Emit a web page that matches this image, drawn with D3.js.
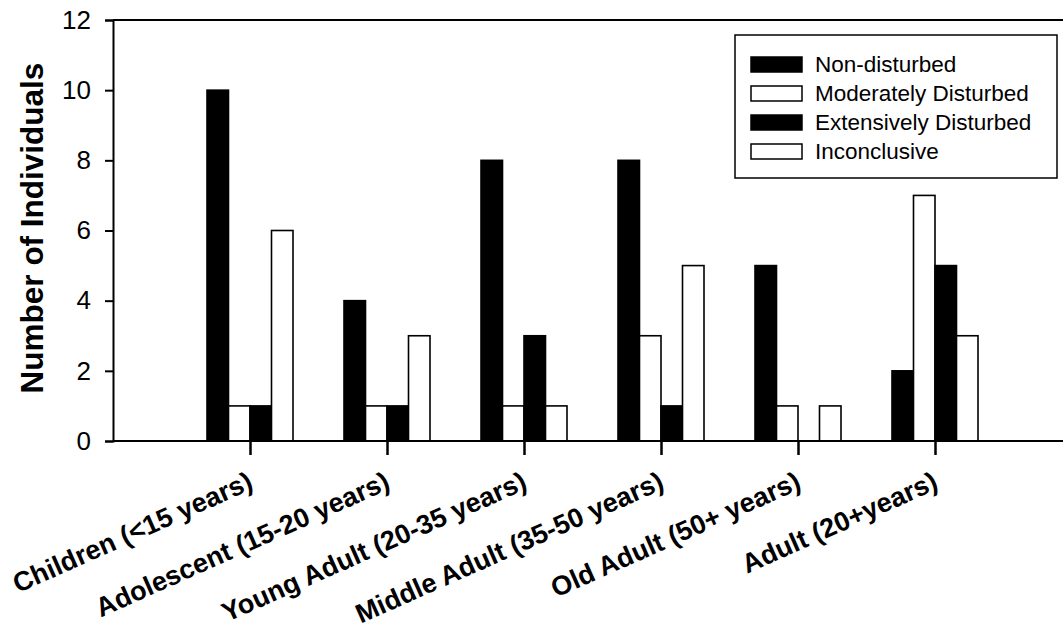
<!DOCTYPE html>
<html>
<head>
<meta charset="utf-8">
<script src="https://cdn.jsdelivr.net/npm/d3@7"></script>
<style>
  html, body { margin: 0; padding: 0; background: #fff; }
  svg { display: block; }
</style>
</head>
<body>
<svg id="chart" width="1063" height="630"></svg>
<script>
const categories = ["Children (<15 years)", "Adolescent (15-20 years)", "Young Adult (20-35 years)",
                    "Middle Adult (35-50 years)", "Old Adult (50+ years)", "Adult (20+years)"];
const seriesNames = ["Non-disturbed", "Moderately Disturbed", "Extensively Disturbed", "Inconclusive"];
const seriesFill = ["#000", "#fff", "#000", "#fff"];
const nonDisturbed = [10, 4, 8, 8, 5, 2];
const moderatelyDisturbed = [1, 1, 1, 3, 1, 7];
const extensivelyDisturbed = [1, 1, 3, 1, 0, 5];
const inconclusive = [6, 3, 1, 5, 1, 3];
const yTicks = [0, 2, 4, 6, 8, 10, 12];

const seriesValues = [nonDisturbed, moderatelyDisturbed, extensivelyDisturbed, inconclusive];

const svg = d3.select("#chart");
const plotLeft = 113, plotTop = 20, plotBottom = 441;

// categories sit at positions 1..6 on a 0..7 axis
const x = d3.scaleLinear().domain([0, 7]).range([plotLeft, plotLeft + 7 * 137]);
const y = d3.scaleLinear().domain([0, 12]).range([plotBottom, plotTop]);
const inner = d3.scaleBand().domain(seriesNames).range([-43, 43]).padding(0);

// bars
seriesNames.forEach((s, si) => {
  svg.append("g").selectAll("rect")
    .data(seriesValues[si].map((v, i) => ({v, i})).filter(d => d.v > 0))
    .join("rect")
    .attr("x", d => x(d.i + 1) + inner(s))
    .attr("y", d => y(d.v))
    .attr("width", inner.bandwidth())
    .attr("height", d => y(0) - y(d.v))
    .attr("fill", seriesFill[si])
    .attr("stroke", "#000")
    .attr("stroke-width", 1.6);
});

// top border line
svg.append("line").attr("x1", plotLeft).attr("x2", 1063).attr("y1", y(12)).attr("y2", y(12))
  .attr("stroke", "#000").attr("stroke-width", 2);

// y axis
const yAxis = svg.append("g").attr("transform", `translate(${plotLeft},0)`)
  .call(d3.axisLeft(y).tickValues(yTicks).tickSize(8).tickPadding(14).tickFormat(d3.format("d")));
yAxis.select(".domain").attr("stroke-width", 2);
yAxis.selectAll(".tick line").attr("stroke-width", 2);
yAxis.selectAll("text").attr("font-family", "Liberation Sans, Arial, sans-serif")
  .attr("font-size", 26).attr("fill", "#000");

// x axis
svg.append("line").attr("x1", plotLeft).attr("x2", 1063).attr("y1", plotBottom).attr("y2", plotBottom)
  .attr("stroke", "#000").attr("stroke-width", 2);
const xAxis = d3.axisBottom(x).tickValues(categories.map((c, i) => i + 1)).tickSize(14)
  .tickFormat((d) => categories[d - 1]);
const xg = svg.append("g").attr("transform", `translate(0,${plotBottom})`).call(xAxis);
xg.select(".domain").remove();
xg.selectAll(".tick line").attr("stroke-width", 2.5);
xg.selectAll("text")
  .attr("font-family", "Liberation Sans, Arial, sans-serif")
  .attr("font-weight", "bold")
  .attr("font-size", 27)
  .attr("fill", "#000")
  .attr("text-anchor", "end")
  .attr("dy", null)
  .attr("y", 0)
  .attr("transform", "translate(4,47) rotate(-24)");

// y title
svg.append("text")
  .attr("transform", `translate(43,228) rotate(-90)`)
  .attr("text-anchor", "middle")
  .attr("font-family", "Liberation Sans, Arial, sans-serif")
  .attr("font-weight", "bold")
  .attr("font-size", 31.5)
  .text("Number of Individuals");

// legend
const lg = svg.append("g");
lg.append("rect").attr("x", 735).attr("y", 35).attr("width", 322).attr("height", 143)
  .attr("fill", "#fff").attr("stroke", "#000").attr("stroke-width", 1.5);
seriesNames.forEach((s, i) => {
  const cy = 64 + i * 29;
  lg.append("rect").attr("x", 751).attr("y", cy - 7).attr("width", 51).attr("height", 15)
    .attr("fill", seriesFill[i]).attr("stroke", "#000").attr("stroke-width", 1.5);
  lg.append("text").attr("x", 815).attr("y", cy + 8)
    .attr("font-family", "Liberation Sans, Arial, sans-serif")
    .attr("font-size", 22.5).text(s);
});
</script>
</body>
</html>
